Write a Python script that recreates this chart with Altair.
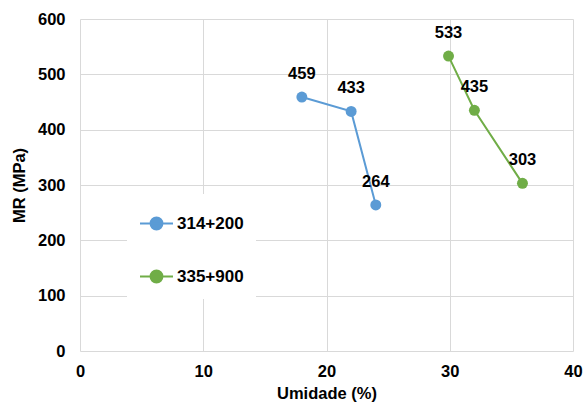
import altair as alt
import pandas as pd

# Moisture content (%) and resilient modulus (MPa) for each section
series_names = ["314+200", "335+900"]
umidade_314 = [18.0, 22.0, 24.0]
mr_314 = [459, 433, 264]
umidade_335 = [29.9, 32.0, 35.9]
mr_335 = [533, 435, 303]

colors = ["#5B9BD5", "#70AD47"]
x_ticks = [0, 10, 20, 30, 40]
y_ticks = [0, 100, 200, 300, 400, 500, 600]

rows = []
for name, xs, ys in [(series_names[0], umidade_314, mr_314),
                     (series_names[1], umidade_335, mr_335)]:
    for i, (x, y) in enumerate(zip(xs, ys)):
        rows.append({"serie": name, "umidade": x, "mr": y, "ordem": i})
df = pd.DataFrame(rows)

FONT = "Liberation Sans"
FS = 16.5

x_enc = alt.X("umidade:Q", title="Umidade (%)",
              scale=alt.Scale(domain=[0, 40], nice=False),
              axis=alt.Axis(values=x_ticks, labelFlush=False, labelPadding=12,
                            titlePadding=6))
y_enc = alt.Y("mr:Q", title="MR (MPa)",
              scale=alt.Scale(domain=[0, 600], nice=False),
              axis=alt.Axis(values=y_ticks, labelPadding=15, titlePadding=10))
color_scale = alt.Scale(domain=series_names, range=colors)

legend = alt.Legend(
    title=None, orient="none", legendX=47, legendY=175,
    fillColor="white", padding=12, rowPadding=25,
    symbolType="M-1,0L1,0M-0.36,0A0.36,0.36,0,1,0,0.36,0A0.36,0.36,0,1,0,-0.36,0Z",
    symbolSize=1089, symbolStrokeWidth=2, labelOffset=3,
    labelFont=FONT, labelFontSize=17, labelFontWeight="bold", labelColor="black",
)

base = alt.Chart(df)

lines = base.mark_line(strokeWidth=2).encode(
    x=x_enc, y=y_enc,
    stroke=alt.Stroke("serie:N", scale=color_scale, legend=legend),
    detail="serie:N",
    order="ordem:Q",
)

points = base.mark_point(filled=True, size=120, opacity=1, shape="circle").encode(
    x=x_enc, y=y_enc,
    fill=alt.Fill("serie:N", scale=color_scale, legend=legend),
)

labels = base.mark_text(dy=-23, font=FONT, fontSize=FS, fontWeight="bold",
                        color="black").encode(
    x=x_enc, y=y_enc, text="mr:Q",
)

chart = (lines + points + labels).properties(
    width=493, height=332,
    autosize=alt.AutoSizeParams(type="none"),
    padding={"left": 80, "top": 19, "right": 15, "bottom": 54},
).configure_view(stroke=None).configure_axis(
    domain=False, ticks=False, grid=True, gridColor="#d9d9d9", gridWidth=1,
    labelFont=FONT, labelFontSize=FS, labelFontWeight="bold", labelColor="black",
    titleFont=FONT, titleFontSize=FS, titleFontWeight="bold", titleColor="black",
)

chart.save("out.html", embed_options={"renderer": "svg", "actions": False})
